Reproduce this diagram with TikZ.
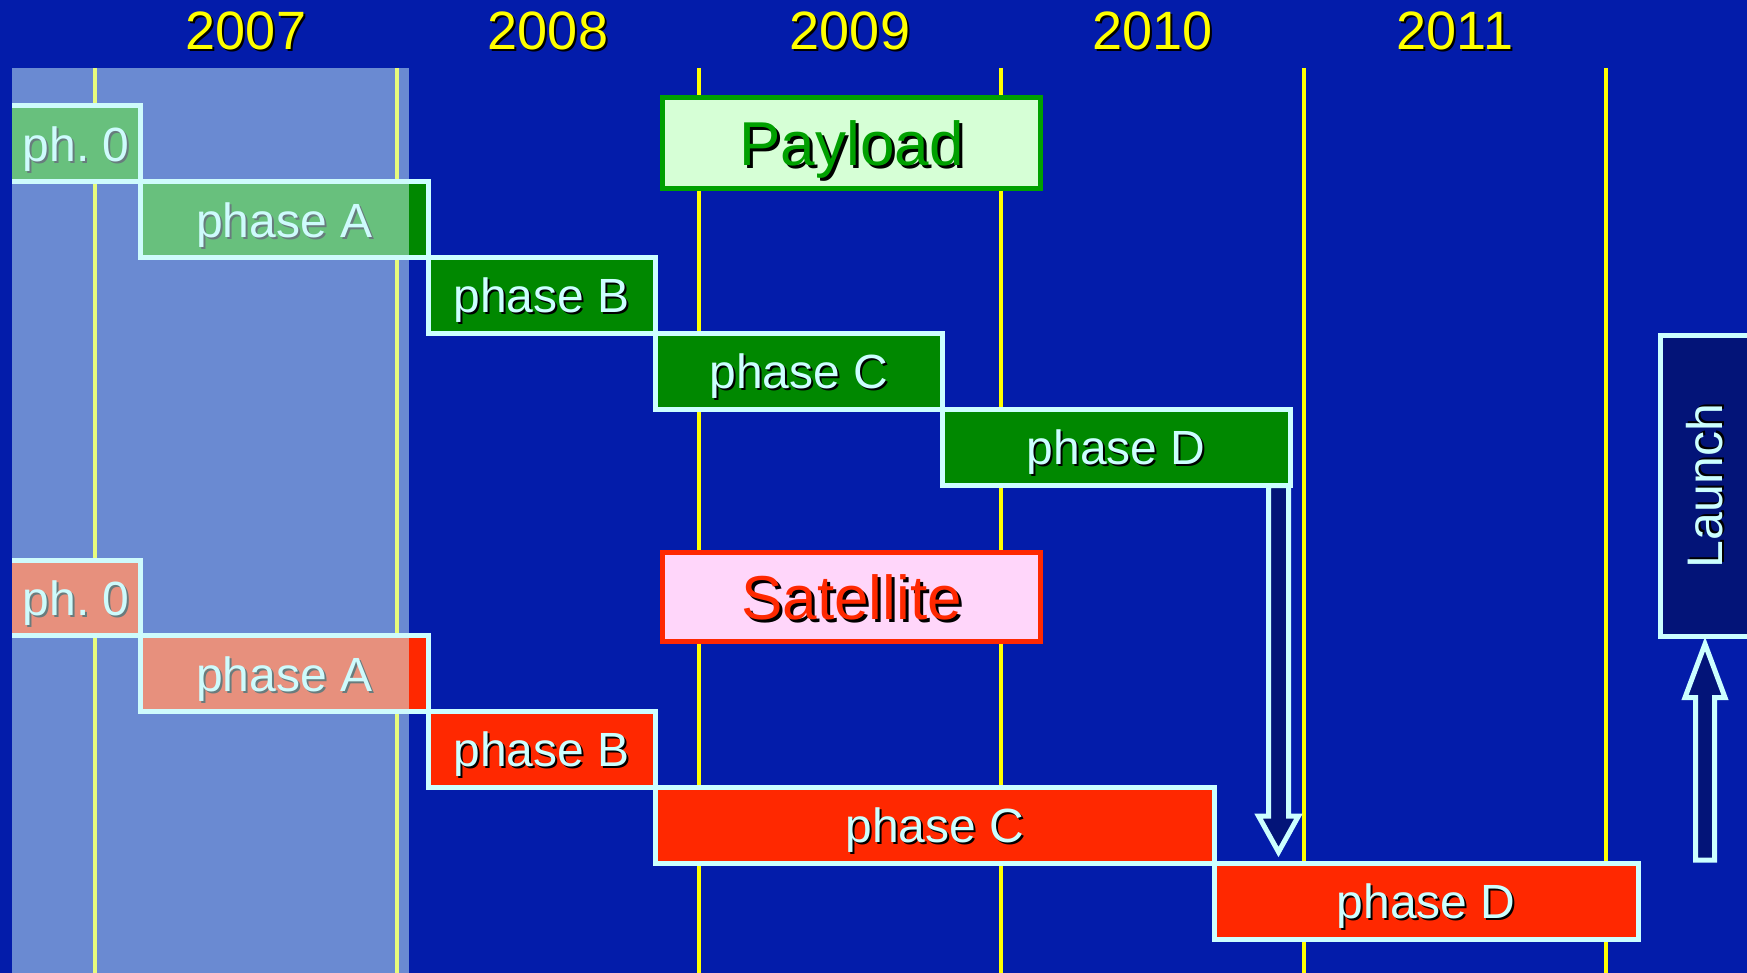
\documentclass[tikz,border=0pt]{standalone}
\usepackage{fontspec}
\setmainfont{Liberation Sans}
\usetikzlibrary{calc}
\frenchspacing
\definecolor{bgblue}{RGB}{3,28,170}
\definecolor{yl}{RGB}{255,255,0}
\definecolor{bord}{RGB}{204,255,255}
\definecolor{dgreen}{RGB}{0,136,0}
\definecolor{redph}{RGB}{255,40,0}
\definecolor{tgreen}{RGB}{0,160,0}
\definecolor{tgreenf}{RGB}{214,255,214}
\definecolor{tred}{RGB}{255,40,0}
\definecolor{tpink}{RGB}{255,214,250}
\definecolor{navy}{RGB}{3,20,120}
\definecolor{shadecol}{RGB}{209,248,251}
\newcommand\shd[2][1pt]{\makebox[0pt][l]{\hspace*{#1}\raisebox{-#1}{\color{black}#2}}#2}
\newcommand\gbox[8][]{%
 \pgfmathsetmacro\gbX{(#3+#5)/2}%
 \pgfmathsetmacro\gbY{(#4+#6)/2}%
 \pgfmathsetmacro\gbW{(#5-#3)*0.5}%
 \pgfmathsetmacro\gbH{(#6-#4)*0.5}%
 \node[phbox, fill=#7, minimum width=\gbW pt, minimum height=\gbH pt, #1] (#2) at (\gbX,\gbY) {\shd{#8}};}
\begin{document}
\begin{tikzpicture}[x=0.5pt, y=-0.5pt,
  phbox/.style={rectangle, draw=bord, line width=2.5pt, inner sep=0pt, outer sep=0pt,
    text=bord, font=\fontsize{24pt}{28pt}\selectfont, text height=17.2pt, text depth=0pt},
  ttl/.style={rectangle, line width=2.5pt, inner sep=0pt, outer sep=0pt,
    font=\fontsize{31pt}{36pt}\selectfont, text height=22.2pt, text depth=0pt,
    minimum width=189pt},
  yearlbl/.style={inner sep=0pt, text=yl, font=\fontsize{27pt}{32pt}\selectfont,
    text height=19.3pt, text depth=0pt},
  yline/.style={draw=yl, line width=2.2pt},
  bline/.style={draw=bord, line width=2.5pt},
  barrow/.style={draw=bord, fill=navy, line width=2.5pt, line join=miter},
  launchbox/.style={rectangle, draw=bord, fill=navy, line width=2.5pt, inner sep=0pt,
    outer sep=0pt, text=bord, font=\fontsize{25pt}{30pt}\selectfont}
]
\useasboundingbox (0,0) rectangle (1747,973);
\fill[bgblue] (0,0) rectangle (1747,973);
\foreach \x in {95,397,699,1001,1304,1606} \draw[yline] (\x,68) -- (\x,973);
\foreach \x/\yr in {246/2007,548/2008,850/2009,1152.5/2010,1455/2011}
  \node[yearlbl] (y\yr) at (\x,30.5) {\shd{\yr}};
% titles
\node[ttl, draw=tgreen, fill=tgreenf, text=tgreen, minimum height=45.25pt] (payload) at (851.5,143.25) {\shd[1.5pt]{Payload}};
\node[ttl, draw=tred, fill=tpink, text=tred, minimum height=44.5pt] (satellite) at (851.5,597) {\shd[1.5pt]{Satellite}};
% payload phases
\gbox[draw=none]{P0}{12}{106}{140.5}{181.9}{dgreen}{ph. 0}
\draw[bline] (P0.north west) -- (P0.north east) -- (P0.south east) -- (P0.south west);
\gbox{PA}{140.5}{181.9}{428}{257.8}{dgreen}{phase A}
\gbox{PB}{428}{257.8}{655}{333.7}{dgreen}{phase B}
\gbox{PC}{655}{333.7}{942.6}{409.6}{dgreen}{phase C}
\gbox{PD}{942.6}{409.6}{1290}{485.5}{dgreen}{phase D}
% satellite phases
\gbox[draw=none]{S0}{12}{560}{140.5}{635.9}{redph}{ph. 0}
\draw[bline] (S0.north west) -- (S0.north east) -- (S0.south east) -- (S0.south west);
\gbox{SA}{140.5}{635.9}{428}{711.8}{redph}{phase A}
\gbox{SB}{428}{711.8}{655}{787.7}{redph}{phase B}
\gbox{SC}{655}{787.7}{1214.5}{863.6}{redph}{phase C}
\gbox{SD}{1214.5}{863.6}{1638}{939.5}{redph}{phase D}
% launch
\node[launchbox, minimum width=45.3pt, minimum height=150.5pt] (launch) at (1706,486) {\rotatebox{90}{\shd{Launch}}};
% arrows
\coordinate (dtop) at ($(PD.south east)+(-11.5,0)$);
\draw[barrow] (dtop) ++(-10,0) -- ++(0,330.5) -- ++(-10,0) -- ++(20,36) -- ++(20,-36) -- ++(-10,0) -- ++(0,-330.5) -- cycle;
\coordinate (utip) at ($(launch.south)+(-1,7.5)$);
\draw[barrow] (utip) -- ++(20,53.5) -- ++(-10.5,0) -- ++(0,162.5) -- ++(-19,0) -- ++(0,-162.5) -- ++(-10.5,0) -- cycle;
% shaded past period
\fill[shadecol, fill opacity=0.5] (12,68) rectangle (409,973);
\end{tikzpicture}
\end{document}
